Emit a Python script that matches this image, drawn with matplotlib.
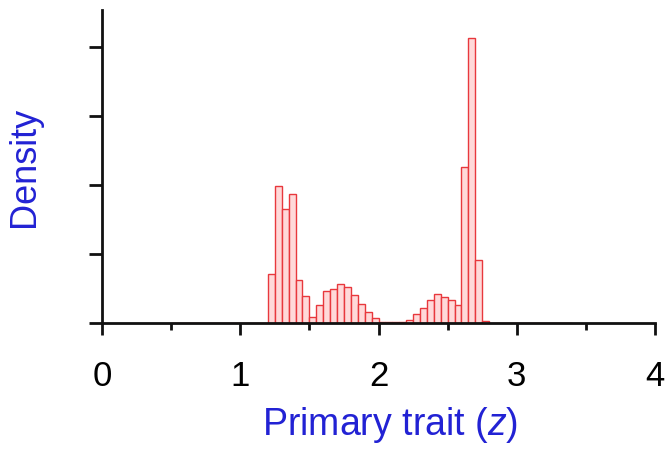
import matplotlib
matplotlib.use("Agg")
import matplotlib.pyplot as plt
import numpy as np
from matplotlib.ticker import MultipleLocator

bin_width = 0.05
bin_starts = [round(0.5 + i * 0.05, 2) for i in range(58)]  # 0.50 ... 3.35
dens_main = {
    1.20: 0.71, 1.25: 1.99, 1.30: 1.65, 1.35: 1.87, 1.40: 0.62, 1.45: 0.39,
    1.50: 0.09, 1.55: 0.26, 1.60: 0.46, 1.65: 0.49, 1.70: 0.57, 1.75: 0.52,
    1.80: 0.41, 1.85: 0.28, 1.90: 0.16, 1.95: 0.07, 2.00: 0.02, 2.05: 0.01,
    2.10: 0.01, 2.15: 0.02, 2.20: 0.04, 2.25: 0.13, 2.30: 0.22, 2.35: 0.33,
    2.40: 0.42, 2.45: 0.38, 2.50: 0.33, 2.55: 0.26, 2.60: 2.26, 2.65: 4.14,
    2.70: 0.91, 2.75: 0.03,
}
density = [dens_main.get(b, 0.006) for b in bin_starts]

x_ticks = [0, 1, 2, 3, 4]
y_ticks = [0, 1, 2, 3, 4]

plt.rcParams['font.family'] = ['Liberation Sans', 'DejaVu Sans']
plt.rcParams['mathtext.fontset'] = 'custom'
plt.rcParams['mathtext.it'] = 'Liberation Sans:italic'

fig = plt.figure(figsize=(6.7, 4.5), dpi=100)
ax = fig.add_axes([102/670, 127/450, 553/670, 313/450])

ax.bar(bin_starts, density, width=bin_width, align='edge',
       facecolor='#ffd9d9', edgecolor='#e8383d', linewidth=1.0, zorder=2)

ax.set_xlim(0, 4)
ax.set_ylim(0, 4.54)
ax.set_xticks(x_ticks)
ax.xaxis.set_minor_locator(MultipleLocator(0.5))
ax.set_yticks(y_ticks)
ax.set_yticklabels([])

for s in ['top', 'right']:
    ax.spines[s].set_visible(False)
for s in ['left', 'bottom']:
    ax.spines[s].set_linewidth(2)
    ax.spines[s].set_color('#111111')
    ax.spines[s].set_zorder(3)

ax.tick_params(axis='x', which='major', direction='out', length=8.5, width=2,
               labelsize=25, pad=18, color='#111111')
ax.tick_params(axis='x', which='minor', direction='out', length=5, width=2, color='#111111')
ax.tick_params(axis='y', which='major', direction='out', length=9.5, width=2, color='#111111')

ax.set_xlabel('Primary trait ($z$)', fontsize=27, color='#2222d4', labelpad=9, x=0.52)
ax.set_ylabel('Density', fontsize=26, color='#2222d4', labelpad=30)

fig.savefig('out.png', dpi=100)
